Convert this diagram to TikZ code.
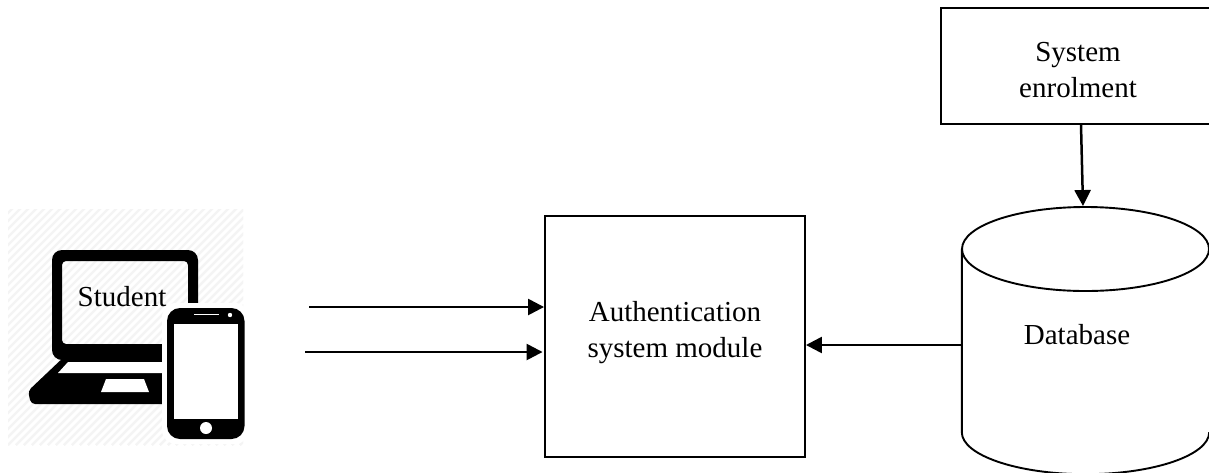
\documentclass[tikz,border=0pt]{standalone}
\usepackage{fontspec}
\setmainfont{Liberation Serif}
\usetikzlibrary{arrows.meta,shapes.geometric,calc}
\definecolor{hatch}{gray}{0.955}
\tikzset{
  box/.style={draw=black,line width=1.9pt,inner sep=0pt},
  lbl/.style={inner sep=0pt,align=center,font=\fontsize{29}{36}\selectfont},
  conn/.style={line width=2.5pt,-{Triangle[length=16pt,width=16pt]}},
  dblid/.style={draw=black,line width=1.9pt,shape=ellipse,inner sep=0pt,minimum width=247pt,minimum height=84pt},
  dbbody/.style={inner sep=0pt,minimum width=247pt,minimum height=183pt}
}
\begin{document}
\begin{tikzpicture}[x=1pt,y=-1pt]
\useasboundingbox (0,0) rectangle (1209,472);
% hatched background of the icon
\begin{scope}
\clip (8,209) rectangle (243,445);
\foreach \k in {0,8,...,500}{
  \draw[hatch,line width=2.2pt] (\k,445) -- (\k+240,205);
  \draw[hatch,line width=2.2pt] (\k-240,445) -- (\k,205);
}
\end{scope}
% laptop
\fill[black,rounded corners=10pt,even odd rule]
  (52,250) rectangle (198,360)
  [rounded corners=4pt] (62,261) rectangle (188,344);
\fill[black] (68,352) -- (190,352) -- (190,362) -- (60,362) -- cycle;
\fill[black,rounded corners=4pt] (65,356) -- (28,391) -- (31,404) -- (180,404) -- (180,356) -- cycle;
\fill[white] (68,362) -- (175,362) -- (175,373) -- (58,373) -- cycle;
\fill[white] (106,379) -- (144,379) -- (149,392) -- (101,392) -- cycle;
% phone
\fill[white,rounded corners=14pt] (162,303) rectangle (249,444);
\fill[black,rounded corners=13pt] (167,308) rectangle (244.5,439);
\fill[white] (174,324) rectangle (238,419);
\draw[white,line width=1.2pt] (194,314.5) -- (219,314.5);
\fill[white] (230,315) circle (2.2);
\fill[white] (206,428) circle (6);
\node[lbl] (student) at (122,297) {Student};
% boxes
\node[box,minimum width=260pt,minimum height=241pt] (auth) at (675,336.5) {};
\node[lbl] (authtxt) at (675,333) {Authentication\\system module};
\node[box,minimum width=290pt,minimum height=116pt] (enrol) at (1086,66) {};
\node[lbl] (enroltxt) at (1078,70) {System\\enrolment};
% database
\node[dbbody] (db) at (1085.5,340.5) {};
\node[dblid] (dbtop) at (1085.5,249) {};
\draw[line width=1.9pt] (db.north west) -- (db.south west)
  .. controls ($(db.south west)+(0,23)$) and ($(db.south)+(-68,42)$) .. ($(db.south)+(0,42)$)
  .. controls ($(db.south)+(68,42)$) and ($(db.south east)+(0,23)$) .. (db.south east);
\node[lbl] (dbtxt) at (1077,335) {Database};
% connectors
\coordinate (s1) at (309,307);
\coordinate (s2) at (305,352);
\draw[conn] (s1) -- (auth.west |- s1);
\draw[conn] (s2) -- ($(auth.west |- s2)+(-1.5,0)$);
\draw[conn] (db.west |- 0,345) -- (auth.east |- 0,345);
\draw[conn] ($(enrol.south)+(-5,0)$) -- ($(dbtop.north)+(-2.5,0)$);
\end{tikzpicture}
\end{document}
